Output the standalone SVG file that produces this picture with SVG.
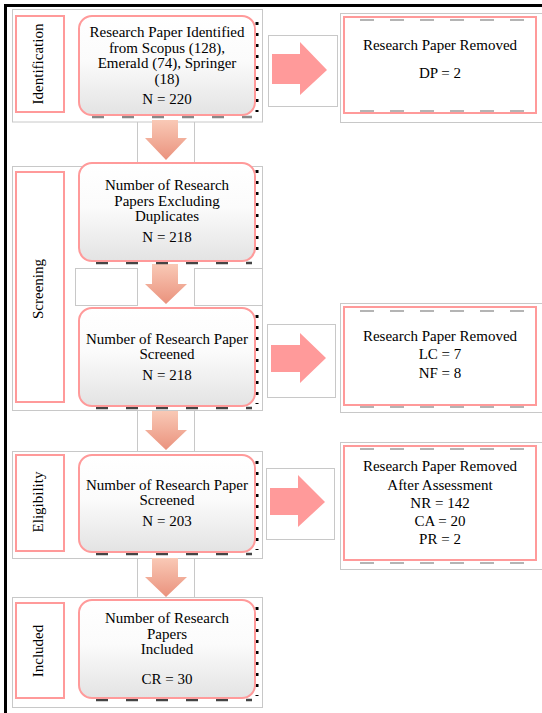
<svg xmlns="http://www.w3.org/2000/svg" width="542" height="713" viewBox="0 0 542 713">
<defs>
<linearGradient id="boxg" x1="0" y1="0" x2="0" y2="1">
<stop offset="0" stop-color="#ffffff"/><stop offset="0.45" stop-color="#fbfbfb"/><stop offset="1" stop-color="#e3e3e3"/>
</linearGradient>
<linearGradient id="downg" x1="0" y1="0" x2="0" y2="1">
<stop offset="0" stop-color="#f9c9b6"/><stop offset="1" stop-color="#ea927d"/>
</linearGradient>
<style>
.frame{fill:none;stroke:#c8c8c8;stroke-width:1}
.lbl{fill:#fff;stroke:#ff9a9a;stroke-width:2}
.box{fill:url(#boxg);stroke:#ff9a9a;stroke-width:2}
.rem{fill:#fff;stroke:#ff9a9a;stroke-width:2}
.rshadow{fill:none;stroke:#000;stroke-width:3;stroke-dasharray:3 8}
.bshadow{fill:none;stroke:#444;stroke-width:2.5;stroke-dasharray:12 18}
.rdash{fill:none;stroke:#b4b4b4;stroke-width:2;stroke-dasharray:14 16}
.down{fill:url(#downg)}
.right{fill:#ff9a9a}
text{font-family:"Liberation Serif","Times New Roman",serif;font-size:15px;fill:#000;text-anchor:middle}
</style>
</defs>
<rect width="542" height="713" fill="#fff"/>
<!-- outer border -->
<path d="M5.5 713V5.5H542" fill="none" stroke="#000" stroke-width="3"/>

<!-- section frames -->
<g id="frames">
<rect class="frame" x="12.5" y="9.5" width="250" height="112.5"/>
<rect class="frame" x="12.5" y="166.5" width="250" height="244"/>
<rect class="frame" x="75.5" y="268.5" width="62" height="37"/>
<rect class="frame" x="194.5" y="268.5" width="68" height="37"/>
<rect class="frame" x="12.5" y="451.5" width="250" height="107"/>
<rect class="frame" x="12.5" y="597.5" width="250" height="110"/>
<path class="frame" d="M137.5 122V166M194.5 122V166M137.5 410V451M194.5 410V451M137.5 558V597M194.5 558V597"/>
</g>

<!-- connectors -->
<g id="connectors">
<polygon class="down" points="152,120 178,120 178,138 187,138 166,160 145,138 152,138"/>
<polygon class="down" points="152,264 178,264 178,284 187,284 166,304 145,284 152,284"/>
<polygon class="down" points="152,411 178,411 178,430 187,430 166,450 145,430 152,430"/>
<polygon class="down" points="152,558 178,558 178,577 187,577 166,597 145,577 152,577"/>
<rect class="frame" x="268.5" y="35.5" width="69" height="71"/>
<polygon class="right" points="272,54 300,54 300,42 327,70 300,95 300,84 272,84"/>
<rect class="frame" x="267.5" y="324.5" width="68" height="73"/>
<polygon class="right" points="271,345 300,345 300,333 326,358 300,383 300,372 271,372"/>
<rect class="frame" x="266.5" y="468.5" width="68" height="71"/>
<polygon class="right" points="270,488 298,488 298,475 325,502 298,527 298,515 270,515"/>
</g>

<!-- phase labels -->
<g id="phase-identification">
<rect class="lbl" x="16" y="16" width="48" height="96"/>
<text transform="translate(38,64) rotate(-90)" x="0" y="5">Identification</text>
</g>
<g id="phase-screening">
<rect class="lbl" x="16" y="172" width="48" height="230"/>
<text transform="translate(38,289) rotate(-90)" x="0" y="5">Screening</text>
</g>
<g id="phase-eligibility">
<rect class="lbl" x="16" y="455" width="48" height="96"/>
<text transform="translate(38,502) rotate(-90)" x="0" y="5">Eligibility</text>
</g>
<g id="phase-included">
<rect class="lbl" x="16" y="603" width="48" height="95"/>
<text transform="translate(38,651) rotate(-90)" x="0" y="5">Included</text>
</g>

<!-- main boxes -->
<g id="box-identified">
<path class="rshadow" d="M257 22V112"/><path class="bshadow" d="M92 117H252" style="stroke:#888"/>
<rect class="box" x="79" y="16" width="176" height="99" rx="13"/>
<text x="167" y="37">Research Paper Identified</text>
<text x="167" y="52.5">from Scopus (128),</text>
<text x="167" y="68">Emerald (74), Springer</text>
<text x="167" y="83.5">(18)</text>
<text x="167" y="104">N = 220</text>
</g>
<g id="box-excluding">
<path class="rshadow" d="M257 170V258"/><path class="bshadow" d="M96 263H252"/>
<rect class="box" x="79" y="163" width="176" height="98" rx="13"/>
<text x="167" y="190">Number of Research</text>
<text x="167" y="205.5">Papers Excluding</text>
<text x="167" y="220.5">Duplicates</text>
<text x="167" y="242">N = 218</text>
</g>
<g id="box-screened">
<path class="rshadow" d="M257 315V404"/><path class="bshadow" d="M96 408H252"/>
<rect class="box" x="79" y="308" width="176" height="98" rx="13"/>
<text x="167" y="344">Number of Research Paper</text>
<text x="167" y="358.5">Screened</text>
<text x="167" y="380">N = 218</text>
</g>
<g id="box-eligible">
<path class="rshadow" d="M257 461V550"/><path class="bshadow" d="M96 554H252"/>
<rect class="box" x="79" y="455" width="176" height="97" rx="13"/>
<text x="167" y="490">Number of Research Paper</text>
<text x="167" y="505">Screened</text>
<text x="167" y="526">N = 203</text>
</g>
<g id="box-included">
<path class="rshadow" d="M257 607V696"/><path class="bshadow" d="M96 700H252"/>
<rect class="box" x="79" y="600" width="176" height="98" rx="13"/>
<text x="167" y="623">Number of Research</text>
<text x="167" y="638.5">Papers</text>
<text x="167" y="653.5">Included</text>
<text x="167" y="683.5">CR = 30</text>
</g>

<!-- removed boxes -->
<g id="removed-1">
<rect class="frame" x="340.5" y="13.5" width="203" height="109"/>
<rect class="rem" x="344" y="17" width="192" height="96"/>
<path class="rdash" d="M360 20H530M360 111H530"/>
<text x="440" y="50">Research Paper Removed</text>
<text x="440" y="78">DP = 2</text>
</g>
<g id="removed-2">
<rect class="frame" x="340.5" y="303.5" width="203" height="109"/>
<rect class="rem" x="344" y="307" width="192" height="98"/>
<path class="rdash" d="M360 311H530M360 407H530"/>
<text x="440" y="341">Research Paper Removed</text>
<text x="440" y="359">LC = 7</text>
<text x="440" y="378">NF = 8</text>
</g>
<g id="removed-3">
<rect class="frame" x="340.5" y="442.5" width="203" height="127"/>
<rect class="rem" x="344" y="446" width="192" height="114"/>
<path class="rdash" d="M360 449H530M360 563H530"/>
<text x="440" y="471">Research Paper Removed</text>
<text x="440" y="490">After Assessment</text>
<text x="440" y="508">NR = 142</text>
<text x="440" y="526">CA = 20</text>
<text x="440" y="543.5">PR = 2</text>
</g>
</svg>
